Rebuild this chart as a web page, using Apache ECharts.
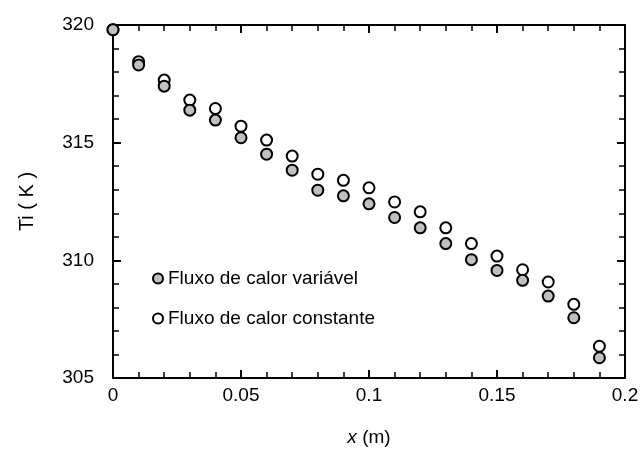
<!DOCTYPE html>
<html>
<head>
<meta charset="utf-8">
<script src="https://cdn.jsdelivr.net/npm/echarts@6/dist/echarts.min.js"></script>
<style>
  html, body { margin: 0; padding: 0; background: #fff; }
  #chart { width: 642px; height: 474px; }
</style>
</head>
<body>
<div id="chart"></div>
<script>
// posições ao longo do canal (m)
var xValues = [0, 0.01, 0.02, 0.03, 0.04, 0.05, 0.06, 0.07, 0.08, 0.09,
  0.10, 0.11, 0.12, 0.13, 0.14, 0.15, 0.16, 0.17, 0.18, 0.19]
// temperatura Ti (K)
var tVariavel = [319.8, 318.3, 317.4, 316.38, 315.96, 315.21, 314.51, 313.83, 312.98, 312.74,
  312.4, 311.82, 311.38, 310.71, 310.03, 309.57, 309.15, 308.48, 307.56, 305.86]
var tConstante = [319.8, 318.44, 317.66, 316.81, 316.45, 315.7, 315.11, 314.43, 313.66, 313.4,
  313.08, 312.48, 312.06, 311.38, 310.71, 310.18, 309.6, 309.08, 308.13, 306.35]
var seriesNames = ['Fluxo de calor variável', 'Fluxo de calor constante']

function pairs(ys) {
  var out = []
  for (var i = 0; i < xValues.length; i++) {
    out.push([xValues[i], ys[i]])
  }
  return out
}

var font = 'Liberation Sans, Arial, sans-serif'
var lineStyle = { color: '#000', width: 2 }

// eixo com ticks para dentro, usado nos 4 lados
function axisBase(show, margin) {
  return {
    axisLine: { show: true, onZero: false, lineStyle: lineStyle },
    axisTick: { show: true, inside: true, length: 8, lineStyle: { color: '#000', width: 2 } },
    minorTick: { show: true, splitNumber: 5, length: 6, lineStyle: { color: '#000', width: 1.5 } },
    splitLine: { show: false },
    axisLabel: { show: show, margin: margin, color: '#000', fontFamily: font, fontSize: 19 }
  }
}

var myChart = echarts.init(document.getElementById('chart'))

var option = {
  backgroundColor: '#fff',
  animation: false,
  grid: { left: 113, top: 25, right: 17, bottom: 96 },
  legend: {
    orient: 'vertical',
    left: 147,
    top: 264,
    itemGap: 21,
    itemWidth: 10,
    itemHeight: 10,
    textStyle: { color: '#000', fontFamily: font, fontSize: 19 },
    data: seriesNames
  },
  xAxis: [
    Object.assign(axisBase(true, 8), {
      type: 'value', min: 0, max: 0.2, interval: 0.05, position: 'bottom',
      name: '{i|x} (m)',
      nameLocation: 'middle',
      nameGap: 50,
      nameTextStyle: {
        color: '#000', fontFamily: font, fontSize: 19,
        rich: { i: { fontStyle: 'italic', fontFamily: font, fontSize: 19, color: '#000' } }
      }
    }),
    Object.assign(axisBase(false, 8), {
      type: 'value', min: 0, max: 0.2, interval: 0.05, position: 'top'
    })
  ],
  yAxis: [
    Object.assign(axisBase(true, 19), {
      type: 'value', min: 305, max: 320, interval: 5, position: 'left',
      name: 'Ti ( K )',
      nameLocation: 'middle',
      nameGap: 76,
      nameTextStyle: { color: '#000', fontFamily: font, fontSize: 20 }
    }),
    Object.assign(axisBase(false, 8), {
      type: 'value', min: 305, max: 320, interval: 5, position: 'right'
    })
  ],
  series: [{
    name: seriesNames[0],
    type: 'scatter',
    z: 3,
    symbol: 'circle',
    symbolSize: 11,
    itemStyle: { color: '#c0c0c0', borderColor: '#000', borderWidth: 2, opacity: 1 },
    data: pairs(tVariavel)
  }, {
    name: seriesNames[1],
    type: 'scatter',
    z: 2,
    symbol: 'circle',
    symbolSize: 11,
    itemStyle: { color: '#fff', borderColor: '#000', borderWidth: 2, opacity: 1 },
    data: pairs(tConstante)
  }]
}

myChart.setOption(option)
</script>
</body>
</html>
